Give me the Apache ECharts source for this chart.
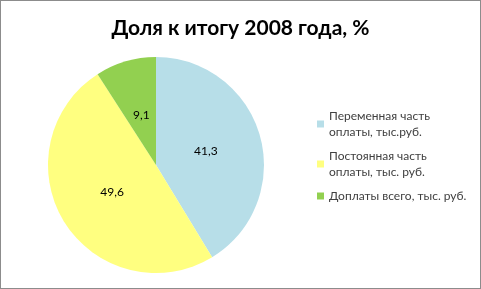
<!DOCTYPE html>
<html>
<head>
<meta charset="utf-8">
<script src="https://cdn.jsdelivr.net/npm/echarts@6/dist/echarts.min.js"></script>
<style>
html,body{margin:0;padding:0;background:#fff;}
#c{width:481px;height:289px;box-sizing:border-box;border:1px solid #8c8c8c;}
</style>
</head>
<body>
<div id="c"></div>
<script>
const titleText = 'Доля к итогу 2008 года, %';
const categories = ['Переменная часть оплаты, тыс.руб.', 'Постоянная часть оплаты, тыс. руб.', 'Доплаты всего, тыс. руб.'];
const legendLabels = ['Переменная часть\nоплаты, тыс.руб.', 'Постоянная часть\nоплаты, тыс. руб.', 'Доплаты всего, тыс. руб.'];
const values = [41.3, 49.6, 9.1];
const colors = ['#B7DEE8', '#FFFF80', '#92D050'];

const CX = 155, CY = 164, R = 108, LABEL_FRAC = 0.48;
const total = values.reduce((a, b) => a + b, 0);

const chart = echarts.init(document.getElementById('c'), null, {renderer: 'canvas'});
chart.setOption({
  animation: false,
  title: {
    text: titleText,
    left: 'center',
    top: 12,
    textStyle: {fontFamily: 'Lato', fontWeight: 'bold', fontSize: 21, color: '#000'}
  },
  legend: {
    orient: 'vertical',
    left: 311,
    top: 102,
    itemWidth: 7,
    itemHeight: 7,
    itemGap: 8,
    icon: 'rect',
    data: categories,
    formatter: function (n) { return legendLabels[categories.indexOf(n)]; },
    textStyle: {fontFamily: 'Lato', fontSize: 12, color: '#404040', lineHeight: 16}
  },
  series: [{
    type: 'pie',
    center: [CX, CY],
    radius: R,
    startAngle: 90,
    clockwise: true,
    data: categories.map((c, i) => ({name: c, value: values[i], itemStyle: {color: colors[i]}})),
    label: {
      position: 'inside',
      formatter: function (p) { return String(p.value).replace('.', ','); },
      fontFamily: 'Lato',
      fontSize: 12,
      color: '#000'
    },
    labelLayout: function (params) {
      const i = params.dataIndex;
      let before = 0;
      for (let k = 0; k < i; k++) before += values[k];
      const mid = (before + values[i] / 2) / total * Math.PI * 2;
      return {
        x: CX + Math.sin(mid) * R * LABEL_FRAC,
        y: CY - Math.cos(mid) * R * LABEL_FRAC,
        align: 'center',
        verticalAlign: 'middle'
      };
    },
    labelLine: {show: false},
    emphasis: {disabled: true}
  }]
});
</script>
</body>
</html>
